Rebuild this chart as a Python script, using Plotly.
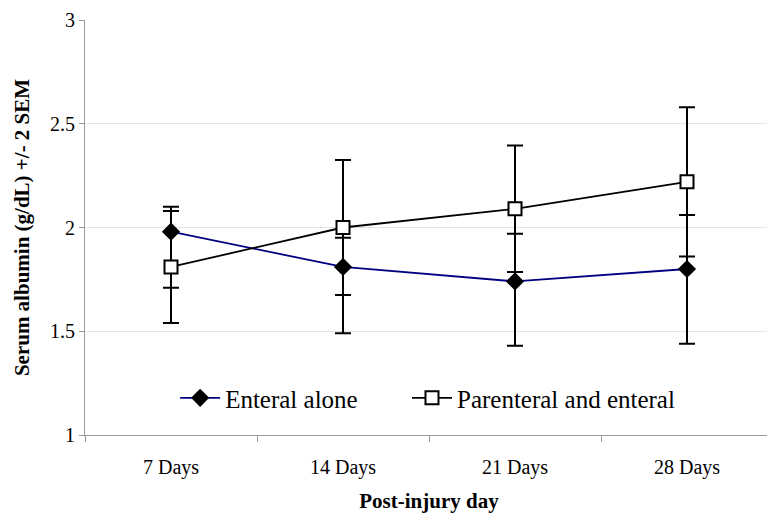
import plotly.graph_objects as go

categories = ["7 Days", "14 Days", "21 Days", "28 Days"]
enteral = [1.98, 1.81, 1.74, 1.80]
enteral_plus = [0.12, 0.14, 0.23, 0.26]
enteral_minus = [0.27, 0.32, 0.31, 0.36]
parenteral = [1.81, 2.00, 2.09, 2.22]
parenteral_err = [0.27, 0.325, 0.305, 0.36]
y_ticks = [1, 1.5, 2, 2.5, 3]

font_family = "Liberation Serif, Times New Roman, serif"

fig = go.Figure()
fig.add_trace(go.Scatter(
    x=categories, y=enteral, name="Enteral alone", mode="lines+markers",
    line=dict(color="#000080", width=1.8),
    marker=dict(symbol="diamond", size=14, color="black"),
    error_y=dict(type="data", symmetric=False, array=enteral_plus,
                 arrayminus=enteral_minus, color="black", thickness=2, width=8),
    legend="legend",
))
fig.add_trace(go.Scatter(
    x=categories, y=parenteral, name="Parenteral and enteral", mode="lines+markers",
    line=dict(color="black", width=1.8),
    marker=dict(symbol="square", size=13, color="white", line=dict(color="black", width=2)),
    error_y=dict(type="data", array=parenteral_err, color="black", thickness=2, width=8),
    legend="legend2",
))

legend_common = dict(orientation="h", y=0.089, xanchor="left", yanchor="middle",
                     font=dict(size=25), bgcolor="rgba(0,0,0,0)", itemwidth=40)

# page body has an 8px default margin, so the figure is sized/offset to compensate
fig.update_layout(
    width=767, height=513,
    margin=dict(l=77, r=2, t=12, b=86),
    paper_bgcolor="white", plot_bgcolor="white",
    font=dict(family=font_family, size=20, color="black"),
    showlegend=True,
    legend=dict(x=0.131, **legend_common),
    legend2=dict(x=0.468, **legend_common),
    xaxis=dict(
        type="category", tickson="boundaries", ticks="outside", ticklen=6,
        tickcolor="#999999", showline=True, linecolor="#999999", linewidth=1,
        showgrid=False, range=[-0.5, 3.5], automargin=False,
        ticklabelstandoff=14,
        title=dict(text="<b>Post-injury day</b>", font=dict(size=21), standoff=15),
        tickfont=dict(size=20),
    ),
    yaxis=dict(
        range=[1, 3], tickvals=y_ticks, ticktext=[str(v) for v in y_ticks],
        ticks="outside", ticklen=5, tickcolor="#999999", automargin=False,
        showline=True, linecolor="#999999", linewidth=1,
        showgrid=True, gridcolor="#e3e3e3", gridwidth=1, zeroline=False,
        title=dict(text="<b>Serum albumin (g/dL) +/- 2 SEM</b>", font=dict(size=21), standoff=14),
        tickfont=dict(size=20),
    ),
)

fig.write_html("out.html")
